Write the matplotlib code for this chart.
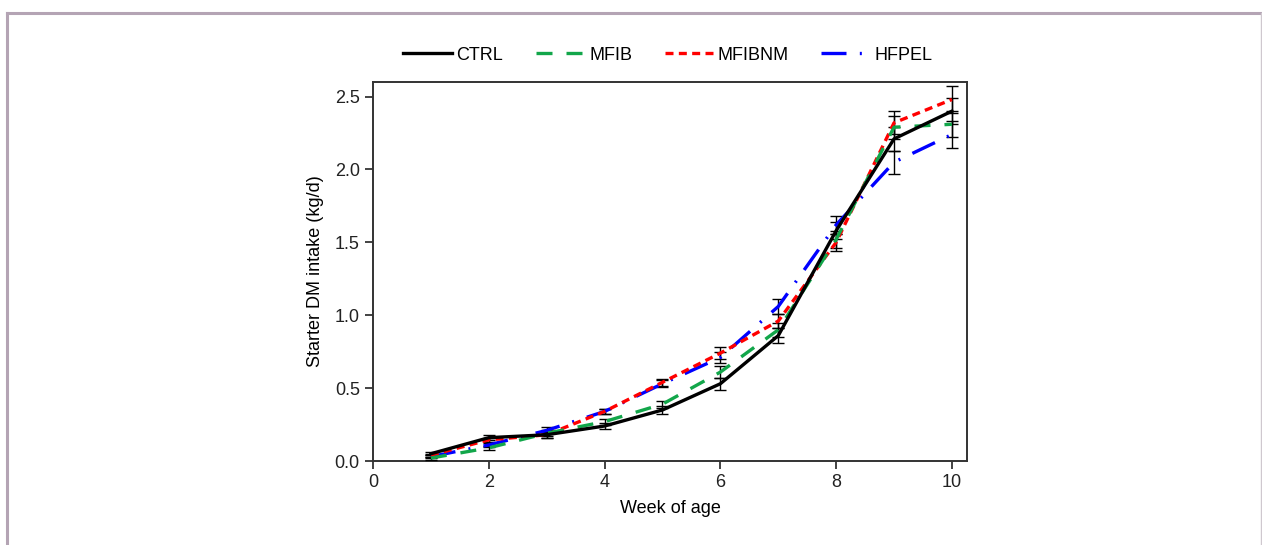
import numpy as np
import matplotlib.pyplot as plt
from matplotlib.lines import Line2D

plt.rcParams['font.family'] = ['Liberation Sans Narrow', 'Liberation Sans', 'DejaVu Sans']

weeks = [1, 2, 3, 4, 5, 6, 7, 8, 9, 10]
ctrl = [0.05, 0.16, 0.18, 0.24, 0.35, 0.53, 0.86, 1.58, 2.21, 2.40]
mfib = [0.02, 0.09, 0.19, 0.27, 0.39, 0.61, 0.90, 1.52, 2.29, 2.31]
mfibnm = [0.04, 0.145, 0.18, 0.34, 0.54, 0.74, 0.96, 1.50, 2.32, 2.48]
hfpel = [0.03, 0.11, 0.21, 0.34, 0.53, 0.71, 1.06, 1.62, 2.05, 2.24]
sem = [0.01, 0.015, 0.02, 0.02, 0.025, 0.04, 0.05, 0.06, 0.08, 0.09]

series = [
    ('CTRL', ctrl, 'black', '-'),
    ('MFIB', mfib, '#12a64a', (0, (4.8, 4.2))),
    ('MFIBNM', mfibnm, '#ff0000', (0, (2.4, 1.6))),
    ('HFPEL', hfpel, '#0000ff', (0, (7.5, 4, 0.6, 4))),
]

fig = plt.figure(figsize=(12.62, 5.45), dpi=100)
ax = fig.add_axes([373 / 1262, 1 - 461 / 545, (967 - 373) / 1262, (461 - 82) / 545])

for name, vals, col, ls in series:
    ax.errorbar(weeks, vals, yerr=sem, fmt='none', ecolor='black', elinewidth=1,
                capsize=4, capthick=1, zorder=3)
for name, vals, col, ls in series[::-1]:
    ax.plot(weeks, vals, color=col, linestyle=ls, linewidth=2.4, label=name, zorder=4)

ax.set_xlim(0, 10.26)
ax.set_ylim(0, 2.6)
ax.set_xticks([0, 2, 4, 6, 8, 10])
ax.set_yticks([0, 0.5, 1.0, 1.5, 2.0, 2.5])
ax.set_yticklabels(['0.0', '0.5', '1.0', '1.5', '2.0', '2.5'])
ax.tick_params(direction='out', length=6, width=1.2, labelsize=13, colors='#222222')
for sp in ax.spines.values():
    sp.set_linewidth(1.4)
    sp.set_color('#333333')
ax.set_xlabel('Week of age', fontsize=13, labelpad=6)
ax.set_ylabel('Starter DM intake (kg/d)', fontsize=13, labelpad=8)

handles = [Line2D([], [], color=c, linestyle=ls, linewidth=2.4) for _, _, c, ls in series]
fig.legend(handles, [s[0] for s in series], loc='center', bbox_to_anchor=(668 / 1262, 1 - 55 / 545),
           ncol=4, frameon=False, fontsize=13, handlelength=2.7, columnspacing=1.8, handletextpad=0.25)

# outer frame
fc = '#b4a4b4'
fig.add_artist(Line2D([7 / 1262, 1261 / 1262], [1 - 12.5 / 545] * 2, color=fc, linewidth=2.2,
                      transform=fig.transFigure))
fig.add_artist(Line2D([7 / 1262] * 2, [0, 1 - 12.5 / 545], color=fc, linewidth=2.2,
                      transform=fig.transFigure))
fig.add_artist(Line2D([1260.5 / 1262] * 2, [0, 1 - 12.5 / 545], color='#cfc8cf', linewidth=1,
                      transform=fig.transFigure))

fig.savefig('out.png', dpi=100)
